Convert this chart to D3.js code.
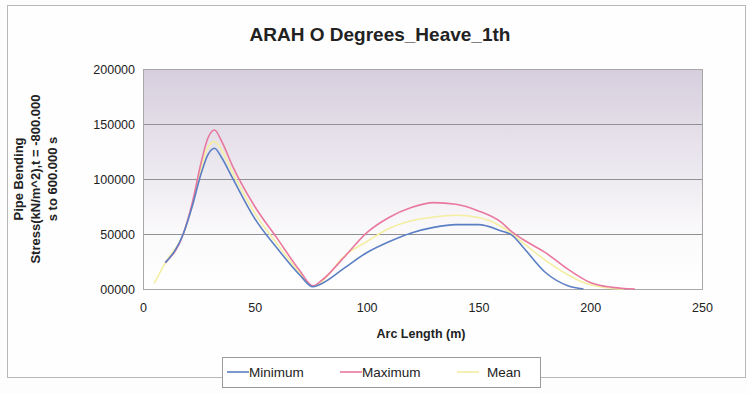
<!DOCTYPE html>
<html>
<head>
<meta charset="utf-8">
<script src="https://cdn.jsdelivr.net/npm/d3@7"></script>
<style>
  html, body { margin: 0; padding: 0; background: #fdfdfd; }
  svg { display: block; font-family: "Liberation Sans", Arial, sans-serif; }
</style>
</head>
<body>
<svg id="chart" width="748" height="394"></svg>
<script>
// Arc length stations along the pipe (m)
const arcLength = [5, 10, 18, 22, 26, 29, 32, 35, 40, 50, 60, 70, 76, 80, 90, 100, 110, 120, 130, 140, 150, 160, 165, 170, 180, 190, 197, 200, 210, 215, 220];

// Pipe bending stress (kN/m^2) per station; null where the series has no value
const minimumStress = [null, 24000, 50000, 75000, 105000, 122000, 128000, 120000, 101000, 64000, 37000, 13000, 2000, 5000, 19000, 33000, 43000, 51000, 56000, 58500, 58500, 53000, 49000, 38000, 15000, 3000, 0, null, null, null, null];
const maximumStress = [null, 24000, 50000, 78000, 115000, 137000, 144500, 135000, 112000, 75000, 46000, 17000, 3000, 8000, 29000, 51000, 65000, 74000, 78500, 77000, 71000, 61000, 52000, 45000, 33000, 18000, 9000, 6000, 1500, 500, 0];
const meanStress    = [5000, 24000, 50000, 76000, 110000, 129000, 134000, 127000, 106000, 69000, 41000, 15000, 2500, 7000, 30000, 43000, 55000, 62000, 65500, 67000, 65000, 57000, 50000, 42000, 26000, 13000, 6000, 4000, 500, 0, null];

const seriesNames = ["Minimum", "Maximum", "Mean"];
const seriesColors = ["#5b7fc4", "#e9789f", "#f3eea0"];

const yTicks = [0, 50000, 100000, 150000, 200000];
const xTicks = [0, 50, 100, 150, 200, 250];

const titleText = "ARAH O Degrees_Heave_1th";
const xTitle = "Arc Length (m)";
const yTitleLines = ["Pipe Bending", "Stress(kN/m^2),t = -800.000", "s to 600.000 s"];

const svg = d3.select("#chart");
const margin = { left: 143, right: 46, top: 69, bottom: 105 };
const W = 748, H = 394;
const plotW = W - margin.left - margin.right;
const plotH = H - margin.top - margin.bottom;

const x = d3.scaleLinear().domain([0, 250]).range([margin.left, margin.left + plotW]);
const y = d3.scaleLinear().domain([0, 200000]).range([margin.top + plotH, margin.top]);

// chart frame
svg.append("rect")
  .attr("x", 7.5).attr("y", 5.5).attr("width", 738).attr("height", 372)
  .attr("fill", "#fefefe").attr("stroke", "#b8b8b8").attr("stroke-width", 1);

// plot background gradient
const defs = svg.append("defs");
const grad = defs.append("linearGradient").attr("id", "plotBg")
  .attr("x1", 0).attr("y1", 0).attr("x2", 0).attr("y2", 1);
grad.append("stop").attr("offset", "0%").attr("stop-color", "#d6cedd");
grad.append("stop").attr("offset", "45%").attr("stop-color", "#ece8ef");
grad.append("stop").attr("offset", "75%").attr("stop-color", "#fbfafb");
grad.append("stop").attr("offset", "100%").attr("stop-color", "#ffffff");

svg.append("rect")
  .attr("x", x(0)).attr("y", y(200000))
  .attr("width", x(250) - x(0)).attr("height", y(0) - y(200000))
  .attr("fill", "url(#plotBg)");

// horizontal gridlines
svg.append("g").selectAll("line")
  .data(yTicks.filter(d => d > 0 && d < 200000))
  .join("line")
  .attr("x1", x(0)).attr("x2", x(250))
  .attr("y1", d => Math.round(y(d)) + 0.5).attr("y2", d => Math.round(y(d)) + 0.5)
  .attr("stroke", "#8f8f96").attr("stroke-width", 1);

// plot border
svg.append("rect")
  .attr("x", x(0) + 0.5).attr("y", y(200000) + 0.5)
  .attr("width", x(250) - x(0)).attr("height", y(0) - y(200000))
  .attr("fill", "none").attr("stroke", "#a8a8a8").attr("stroke-width", 1);

// axes
const yAxis = d3.axisLeft(y).tickValues(yTicks).tickFormat(d3.format("05d")).tickSize(0).tickPadding(8);
const gy = svg.append("g").attr("transform", `translate(${x(0)},0)`).call(yAxis);
gy.select(".domain").remove();
gy.selectAll("text").attr("font-size", 12.5).attr("fill", "#222");

const xAxis = d3.axisBottom(x).tickValues(xTicks).tickFormat(d3.format("d")).tickSize(0).tickPadding(14);
const gx = svg.append("g").attr("transform", `translate(0,${y(0)})`).call(xAxis);
gx.select(".domain").remove();
gx.selectAll("text").attr("font-size", 12.5).attr("fill", "#222");

// series lines
const rows = arcLength.map((a, i) => ({ a, v: [minimumStress[i], maximumStress[i], meanStress[i]] }));
const drawOrder = [2, 1, 0];
drawOrder.forEach(k => {
  const line = d3.line()
    .defined(d => d.v[k] !== null)
    .x(d => x(d.a))
    .y(d => y(d.v[k]))
    .curve(d3.curveMonotoneX);
  svg.append("path")
    .datum(rows)
    .attr("fill", "none")
    .attr("stroke", seriesColors[k])
    .attr("stroke-width", 1.6)
    .attr("stroke-linejoin", "round")
    .attr("d", line);
});

// title
svg.append("text")
  .attr("x", 380).attr("y", 41)
  .attr("text-anchor", "middle")
  .attr("font-size", 19).attr("font-weight", "bold").attr("fill", "#222")
  .text(titleText);

// x-axis title
svg.append("text")
  .attr("x", 421).attr("y", 338)
  .attr("text-anchor", "middle")
  .attr("font-size", 12.5).attr("font-weight", "bold").attr("fill", "#222")
  .text(xTitle);

// y-axis title (three rotated lines)
const yt = svg.append("text")
  .attr("transform", `translate(23,${(y(0) + y(200000)) / 2}) rotate(-90)`)
  .attr("text-anchor", "middle")
  .attr("font-size", 13).attr("font-weight", "bold").attr("fill", "#222");
yTitleLines.forEach((t, i) => {
  yt.append("tspan").attr("x", 0).attr("dy", i === 0 ? 0 : 17).text(t);
});

// legend
const lg = svg.append("g");
lg.append("rect")
  .attr("x", 222.5).attr("y", 357.5).attr("width", 318).attr("height", 30)
  .attr("fill", "#ffffff").attr("stroke", "#9a9a9a").attr("stroke-width", 1);
const legendX = [227, 340, 457];
seriesNames.forEach((name, k) => {
  const g = lg.append("g").attr("transform", `translate(${legendX[k]},372)`);
  g.append("line").attr("x1", 0).attr("x2", 22).attr("y1", 0).attr("y2", 0)
    .attr("stroke", seriesColors[k]).attr("stroke-width", 1.6);
  g.append("text").attr("x", k === 2 ? 30 : 22).attr("y", 4.5)
    .attr("font-size", 13.5).attr("fill", "#222").text(name);
});
</script>
</body>
</html>
